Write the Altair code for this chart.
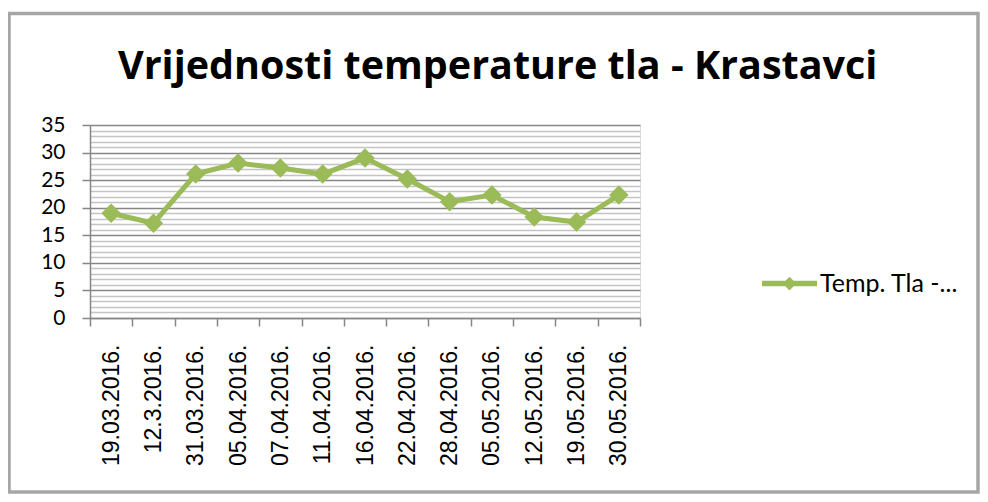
import altair as alt
import pandas as pd

dates = ["19.03.2016.", "12.3.2016.", "31.03.2016.", "05.04.2016.", "07.04.2016.",
         "11.04.2016.", "16.04.2016.", "22.04.2016.", "28.04.2016.", "05.05.2016.",
         "12.05.2016.", "19.05.2016.", "30.05.2016."]
temps = [19.0, 17.2, 26.1, 28.1, 27.2, 26.1, 29.0, 25.2, 21.1, 22.3, 18.3, 17.4, 22.3]
series_name = "Temp. Tla -..."
title_text = "Vrijednosti temperature tla - Krastavci"
y_ticks = list(range(0, 36))

df = pd.DataFrame({"datum": dates, "temp": temps, "serija": [series_name] * len(dates)})

GREEN = "#9bbb59"

x_enc = alt.X("datum:N", sort=None,
              scale=alt.Scale(paddingInner=0, paddingOuter=0),
              axis=alt.Axis(title=None, labelAngle=-90, labelFont="Liberation Sans",
                            labelFontSize=23, labelColor="#000000", labelPadding=18,
                            tickBand="extent", tickSize=8, tickColor="#868686",
                            domainColor="#868686", domainWidth=1.5, tickWidth=1.5,
                            grid=False))
y_enc = alt.Y("temp:Q",
              scale=alt.Scale(domain=[0, 35], nice=False, zero=True),
              axis=alt.Axis(title=None, values=y_ticks,
                            labelExpr="datum.value % 5 === 0 ? datum.label : ''",
                            labelFont="Lato", labelFontSize=21, labelColor="#000000",
                            labelPadding=17, tickSize=8,
                            tickOpacity={"expr": "datum.value % 5 === 0 ? 1 : 0"},
                            tickColor="#868686", tickWidth=1.5,
                            domainColor="#868686", domainWidth=1.5,
                            grid=True,
                            gridColor={"expr": "datum.value % 5 === 0 ? '#868686' : '#c4c4c4'"},
                            gridWidth=1.5, gridOpacity=1))

color_enc = alt.Color("serija:N",
                      scale=alt.Scale(range=[GREEN]),
                      legend=alt.Legend(title=None, orient="none", legendX=672, legendY=131,
                                        symbolType="M-1,-0.1L1,-0.1L1,0.1L-1,0.1Z M-0.25,0L0,-0.25L0.25,0L0,0.25Z",
                                        symbolSize=3025, symbolStrokeWidth=0,
                                        symbolFillColor=GREEN, symbolOpacity=1,
                                        labelFont="Lato", labelFontSize=25, labelColor="#000000",
                                        labelOffset=3, padding=0, labelLimit=300))

base = alt.Chart(df)
line = base.mark_line(strokeWidth=5, color=GREEN).encode(x=x_enc, y=y_enc, color=color_enc)
points = base.mark_point(shape="diamond", filled=True, size=380, opacity=1, color=GREEN).encode(
    x=x_enc, y=y_enc, color=alt.Color("serija:N", scale=alt.Scale(range=[GREEN]), legend=None))

border = alt.Chart(alt.Data(values=[{}])).mark_rect(
    fill=None, stroke="#a6a6a6", strokeWidth=3.5
).encode(x=alt.value(-81), x2=alt.value(888), y=alt.value(-111.5), y2=alt.value(367))

chart = alt.layer(border, line, points).properties(
    width=550, height=193,
    title=alt.TitleParams(title_text, anchor="start", frame="group", dx=28,
                          font="Open Sans", fontSize=39.5, fontWeight="bold", color="#000000",
                          baseline="alphabetic", offset=-107),
    autosize=alt.AutoSizeParams(type="none"),
    padding={"left": 82, "top": 117, "right": 340, "bottom": 176},
).configure_view(stroke=None).configure(background="#ffffff")

chart.save("out.html", embed_options={"renderer": "svg", "actions": False})
